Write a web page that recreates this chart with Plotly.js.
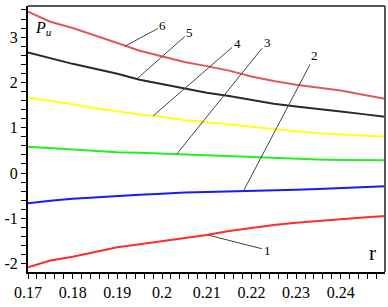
<!DOCTYPE html>
<html>
<head>
<meta charset="utf-8">
<script src="https://cdn.plot.ly/plotly-3.0.1.min.js"></script>
<style>
html,body{margin:0;padding:0;background:#fff;}
#chart{width:388px;height:307px;}
</style>
</head>
<body>
<div id="chart"></div>
<script>
// r values
var r = [0.170,0.175,0.180,0.185,0.190,0.195,0.200,0.205,0.210,0.215,0.220,0.225,0.230,0.235,0.240,0.245,0.250];
// series
var curve1 = [-2.08,-1.93,-1.85,-1.74,-1.64,-1.57,-1.50,-1.43,-1.37,-1.28,-1.21,-1.15,-1.10,-1.06,-1.01,-0.98,-0.95];
var curve2 = [-0.67,-0.61,-0.57,-0.54,-0.50,-0.48,-0.46,-0.43,-0.42,-0.41,-0.40,-0.39,-0.37,-0.35,-0.33,-0.31,-0.29];
var curve3 = [0.58,0.55,0.52,0.49,0.46,0.45,0.43,0.42,0.40,0.38,0.36,0.33,0.31,0.30,0.29,0.285,0.28];
var curve4 = [1.67,1.60,1.52,1.43,1.36,1.29,1.24,1.17,1.12,1.07,1.01,0.96,0.92,0.88,0.85,0.82,0.80];
var curve5 = [2.66,2.53,2.41,2.30,2.19,2.06,1.96,1.86,1.77,1.70,1.62,1.53,1.47,1.42,1.36,1.30,1.24];
var curve6 = [3.56,3.34,3.20,3.04,2.87,2.70,2.57,2.45,2.36,2.26,2.13,2.03,1.95,1.88,1.82,1.73,1.64];

var xTickVals = [0.17,0.18,0.19,0.20,0.21,0.22,0.23,0.24];
var xTickText = ['0.17','0.18','0.19','0.2','0.21','0.22','0.23','0.24'];
var yTickVals = [-2,-1,0,1,2,3];
var yTickText = ['-2','-1','0','1','2','3'];

// curve labels: name, label position, point on curve
var labelNames = ['1','2','3','4','5','6'];
var labelR =     [0.2235,0.2342,0.2235,0.2168,0.2062,0.2002];
var labelY =     [-1.70,2.60,2.89,2.87,3.11,3.25];
var pointR =     [0.2103,0.2181,0.2033,0.1980,0.1944,0.1917];
var pointY =     [-1.37,-0.42,0.42,1.26,2.08,2.80];

var series = [curve1,curve2,curve3,curve4,curve5,curve6];
var colors = ['#ff2a2a','#1a1aff','#22ee22','#ffff1a','#2a2a2a','#e05858'];

var traces = series.map(function(s,i){
  return {x:r, y:s, mode:'lines', type:'scatter', line:{color:colors[i], width:2}, hoverinfo:'skip', showlegend:false};
});

var serif = 'Liberation Serif';
var annotations = labelNames.map(function(n,i){
  return {x:pointR[i], y:pointY[i], xref:'x', yref:'y', ax:labelR[i], ay:labelY[i], axref:'x', ayref:'y',
    text:n, showarrow:true, arrowhead:0, arrowwidth:1, arrowcolor:'#444', standoff:0,
    font:{family:serif, size:13, color:'#000'}};
});
annotations.push({x:0.1734, y:3.18, xref:'x', yref:'y', showarrow:false,
  text:'<i>P</i><sub><i>u</i></sub>', font:{family:serif, size:16, color:'#000'}});
annotations.push({x:0.2472, y:-1.77, xref:'x', yref:'y', showarrow:false,
  text:'r', font:{family:serif, size:21, color:'#000'}});

var layout = {
  width:388, height:307,
  margin:{l:28, r:3, t:6, b:35},
  paper_bgcolor:'#fff', plot_bgcolor:'#fff',
  font:{family:serif},
  xaxis:{range:[0.17,0.2499], tickvals:xTickVals, ticktext:xTickText, ticks:'outside', ticklen:5, tickwidth:1, tickcolor:'#000',
    showgrid:false, zeroline:false, showline:true, linecolor:'#000', linewidth:2,
    tickfont:{family:serif, size:16, color:'#000'},
    minor:{dtick:0.002, tick0:0.17, ticks:'outside', ticklen:5, tickwidth:1, tickcolor:'#000', showgrid:false}},
  yaxis:{range:[-2.185,3.687], tickvals:yTickVals, ticktext:yTickText, ticks:'outside', ticklen:5, tickwidth:1, tickcolor:'#000',
    showgrid:false, zeroline:false, showline:true, linecolor:'#000', linewidth:2,
    tickfont:{family:serif, size:16, color:'#000'},
    minor:{dtick:0.2, tick0:0, ticks:'outside', ticklen:5, tickwidth:1, tickcolor:'#000', showgrid:false}},
  shapes:[
    {type:'line', xref:'paper', yref:'paper', x0:0, x1:1, y0:1, y1:1, line:{color:'#555', width:2}},
    {type:'line', xref:'paper', yref:'paper', x0:1, x1:1, y0:0, y1:1, line:{color:'#555', width:2}}
  ],
  annotations:annotations
};

Plotly.newPlot('chart', traces, layout, {staticPlot:true, displayModeBar:false});
</script>
</body>
</html>
